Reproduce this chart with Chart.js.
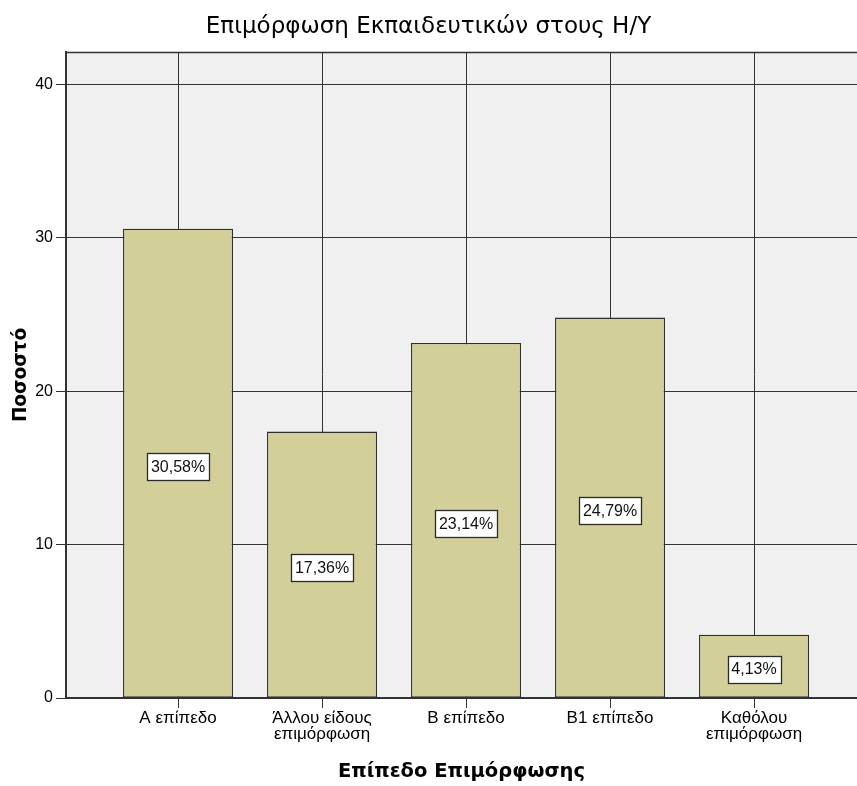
<!DOCTYPE html>
<html>
<head>
<meta charset="utf-8">
<script src="https://cdn.jsdelivr.net/npm/chart.js@4.4.1/dist/chart.umd.min.js"></script>
<style>
  html, body { margin: 0; padding: 0; background: #ffffff; overflow: hidden; }
  #wrap { width: 857px; height: 786px; position: relative; }
</style>
</head>
<body>
<div id="wrap"><canvas id="c" width="857" height="786"></canvas></div>
<script>
const chartTitle = "Επιμόρφωση Εκπαιδευτικών στους Η/Υ";
const xAxisTitle = "Επίπεδο Επιμόρφωσης";
const yAxisTitle = "Ποσοστό";
const categories = [
  ["Α επίπεδο"],
  ["Άλλου είδους", "επιμόρφωση"],
  ["Β επίπεδο"],
  ["Β1 επίπεδο"],
  ["Καθόλου", "επιμόρφωση"]
];
const percentages = [30.58, 17.36, 23.14, 24.79, 4.13];
const yTicks = [0, 10, 20, 30, 40];

const FONT = "'Liberation Sans', Arial, sans-serif";
const WIDE = "'DejaVu Sans', Verdana, sans-serif";
const GRID = "#333333";

const plotFrame = {
  id: 'plotFrame',
  beforeDraw(chart) {
    const a = chart.chartArea, ctx = chart.ctx;
    ctx.save();
    ctx.fillStyle = '#f0f0f0';
    ctx.fillRect(a.left, a.top, a.right - a.left, a.bottom - a.top);
    ctx.restore();
  },
  afterDraw(chart) {
    const a = chart.chartArea, ctx = chart.ctx;
    ctx.save();
    ctx.strokeStyle = GRID;
    ctx.lineWidth = 1.5;
    ctx.beginPath();
    ctx.moveTo(a.left, a.top + 0.5);
    ctx.lineTo(a.right, a.top + 0.5);
    ctx.stroke();
    ctx.restore();
  }
};

const valueBoxes = {
  id: 'valueBoxes',
  afterDatasetsDraw(chart) {
    const ctx = chart.ctx;
    const meta = chart.getDatasetMeta(0);
    ctx.save();
    ctx.font = "16px " + FONT;
    ctx.textAlign = 'center';
    ctx.textBaseline = 'middle';
    meta.data.forEach((bar, i) => {
      const txt = percentages[i].toFixed(2).replace('.', ',') + '%';
      const cx = bar.x;
      const cy = (bar.y + bar.base) / 2 + 3;
      const w = Math.round(ctx.measureText(txt).width + 8);
      const h = 27;
      const x0 = Math.round(cx - w / 2) + 0.5, y0 = Math.round(cy - h / 2) + 0.5;
      ctx.fillStyle = '#ffffff';
      ctx.fillRect(x0, y0, w, h);
      ctx.strokeStyle = '#2a2a2a';
      ctx.lineWidth = 1.3;
      ctx.strokeRect(x0, y0, w, h);
      ctx.fillStyle = '#111111';
      ctx.fillText(txt, cx, cy + 1);
    });
    ctx.restore();
  }
};

new Chart(document.getElementById('c'), {
  type: 'bar',
  data: {
    datasets: [{
      data: percentages.map((v, i) => ({ x: i, y: v })),
      backgroundColor: '#d3cf98',
      borderColor: '#2e2e2e',
      borderWidth: 1.3,
      borderSkipped: false,
      barPercentage: 0.764,
      categoryPercentage: 1.0
    }]
  },
  options: {
    responsive: false,
    animation: false,
    devicePixelRatio: 1,
    layout: { padding: { left: 0, right: 0, top: 0, bottom: 0 } },
    plugins: {
      legend: { display: false },
      tooltip: { enabled: false },
      title: {
        display: true,
        text: chartTitle,
        color: '#000000',
        font: { family: WIDE, size: 23, weight: 'normal', lineHeight: 1.2 },
        padding: { top: 12.8, bottom: 11.6 }
      }
    },
    scales: {
      x: {
        type: 'linear',
        offset: false,
        min: -0.778,
        max: 4.715,
        afterBuildTicks(scale) {
          scale.ticks = categories.map((c, i) => ({ value: i }));
        },
        afterFit(scale) { scale.height = 88; },
        ticks: {
          autoSkip: false,
          maxRotation: 0,
          padding: 3,
          color: '#000000',
          font: { family: FONT, size: 17, lineHeight: 0.9 },
          callback: (v) => categories[v]
        },
        grid: { offset: false, color: GRID, lineWidth: 1, tickLength: 10, drawTicks: true },
        border: { display: true, color: GRID, width: 2 },
        title: {
          display: true,
          text: xAxisTitle,
          color: '#000000',
          font: { family: WIDE, size: 19.5, weight: 'bold' },
          padding: { top: 0, bottom: 2 }
        }
      },
      y: {
        min: 0,
        max: 42.1,
        afterFit(scale) { scale.width = 66; },
        ticks: {
          stepSize: 10,
          includeBounds: false,
          padding: 3,
          color: '#000000',
          font: { family: FONT, size: 16 }
        },
        afterBuildTicks(scale) {
          scale.ticks = yTicks.map(v => ({ value: v }));
        },
        grid: { color: GRID, lineWidth: 1, tickLength: 10, drawTicks: true },
        border: { display: true, color: GRID, width: 2 },
        title: {
          display: true,
          text: yAxisTitle,
          color: '#000000',
          font: { family: WIDE, size: 18.5, weight: 'bold' },
          padding: { top: 10, bottom: 0 }
        }
      }
    }
  },
  plugins: [plotFrame, valueBoxes]
});
</script>
</body>
</html>
